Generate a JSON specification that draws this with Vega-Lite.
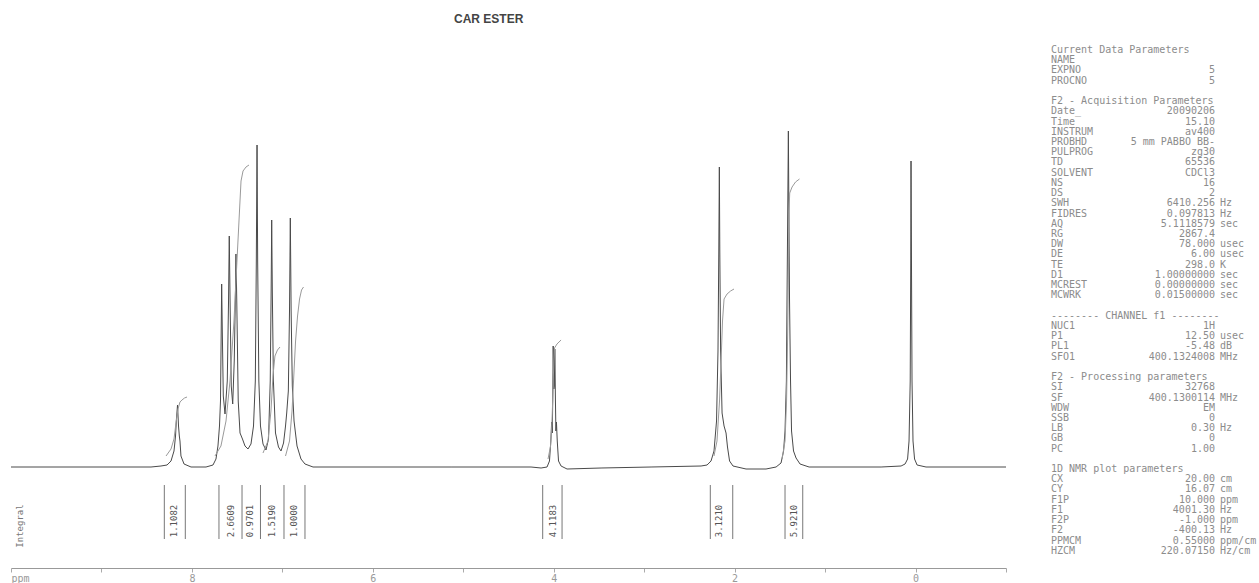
{
  "$schema": "https://vega.github.io/schema/vega-lite/v6.json",
  "background": "white",
  "padding": {"left": 10, "right": 0, "top": 13, "bottom": 0},
  "spacing": 44,
  "title": {"text": "CAR ESTER", "anchor": "start", "frame": "group", "dx": 443, "offset": 19, "font": "Liberation Sans", "fontSize": 12, "fontWeight": "bold", "color": "#444444"},
  "config": {"view": {"stroke": null}},
  "datasets": {
    "spectrum": [
      {"ppm": 10.0, "value": 0}, {"ppm": 8.452, "value": 0}, {"ppm": 8.342, "value": 1}, {"ppm": 8.275, "value": 2},
      {"ppm": 8.231, "value": 6}, {"ppm": 8.198, "value": 16}, {"ppm": 8.181, "value": 31}, {"ppm": 8.171, "value": 48},
      {"ppm": 8.159, "value": 62}, {"ppm": 8.148, "value": 41}, {"ppm": 8.139, "value": 31}, {"ppm": 8.132, "value": 26},
      {"ppm": 8.121, "value": 11}, {"ppm": 8.087, "value": 3}, {"ppm": 8.010, "value": 0}, {"ppm": 7.844, "value": 0},
      {"ppm": 7.767, "value": 2}, {"ppm": 7.734, "value": 8}, {"ppm": 7.712, "value": 21}, {"ppm": 7.695, "value": 41},
      {"ppm": 7.684, "value": 66}, {"ppm": 7.676, "value": 136}, {"ppm": 7.671, "value": 183}, {"ppm": 7.664, "value": 136},
      {"ppm": 7.653, "value": 71}, {"ppm": 7.634, "value": 53}, {"ppm": 7.609, "value": 86}, {"ppm": 7.595, "value": 166},
      {"ppm": 7.587, "value": 231}, {"ppm": 7.578, "value": 166}, {"ppm": 7.565, "value": 81}, {"ppm": 7.549, "value": 63},
      {"ppm": 7.532, "value": 106}, {"ppm": 7.520, "value": 166}, {"ppm": 7.513, "value": 213}, {"ppm": 7.504, "value": 166},
      {"ppm": 7.488, "value": 66}, {"ppm": 7.468, "value": 34}, {"ppm": 7.441, "value": 28}, {"ppm": 7.413, "value": 21},
      {"ppm": 7.380, "value": 18}, {"ppm": 7.347, "value": 23}, {"ppm": 7.319, "value": 41}, {"ppm": 7.299, "value": 86},
      {"ppm": 7.288, "value": 206}, {"ppm": 7.280, "value": 322}, {"ppm": 7.273, "value": 206}, {"ppm": 7.260, "value": 86},
      {"ppm": 7.242, "value": 41}, {"ppm": 7.214, "value": 23}, {"ppm": 7.181, "value": 17}, {"ppm": 7.153, "value": 28},
      {"ppm": 7.134, "value": 86}, {"ppm": 7.124, "value": 176}, {"ppm": 7.118, "value": 247}, {"ppm": 7.111, "value": 176},
      {"ppm": 7.099, "value": 86}, {"ppm": 7.076, "value": 34}, {"ppm": 7.043, "value": 20}, {"ppm": 7.015, "value": 16},
      {"ppm": 6.987, "value": 24}, {"ppm": 6.965, "value": 41}, {"ppm": 6.952, "value": 54}, {"ppm": 6.934, "value": 76},
      {"ppm": 6.921, "value": 156}, {"ppm": 6.912, "value": 249}, {"ppm": 6.903, "value": 156}, {"ppm": 6.890, "value": 81},
      {"ppm": 6.871, "value": 46}, {"ppm": 6.838, "value": 21}, {"ppm": 6.794, "value": 8}, {"ppm": 6.750, "value": 3},
      {"ppm": 6.661, "value": 0}, {"ppm": 5.135, "value": 0}, {"ppm": 4.251, "value": 0}, {"ppm": 4.140, "value": -1},
      {"ppm": 4.074, "value": 0}, {"ppm": 4.047, "value": 6}, {"ppm": 4.032, "value": 26}, {"ppm": 4.023, "value": 45},
      {"ppm": 4.016, "value": 34}, {"ppm": 4.011, "value": 66}, {"ppm": 4.006, "value": 121}, {"ppm": 3.999, "value": 78},
      {"ppm": 3.993, "value": 81}, {"ppm": 3.988, "value": 118}, {"ppm": 3.981, "value": 66}, {"ppm": 3.976, "value": 36},
      {"ppm": 3.970, "value": 45}, {"ppm": 3.961, "value": 26}, {"ppm": 3.947, "value": 6}, {"ppm": 3.919, "value": 1},
      {"ppm": 3.853, "value": -2}, {"ppm": 3.477, "value": -1}, {"ppm": 2.924, "value": 0}, {"ppm": 2.371, "value": 1},
      {"ppm": 2.305, "value": 2}, {"ppm": 2.261, "value": 6}, {"ppm": 2.228, "value": 16}, {"ppm": 2.200, "value": 46},
      {"ppm": 2.184, "value": 116}, {"ppm": 2.175, "value": 216}, {"ppm": 2.169, "value": 300}, {"ppm": 2.164, "value": 216},
      {"ppm": 2.155, "value": 116}, {"ppm": 2.139, "value": 54}, {"ppm": 2.117, "value": 41}, {"ppm": 2.095, "value": 34},
      {"ppm": 2.079, "value": 20}, {"ppm": 2.056, "value": 6}, {"ppm": 2.018, "value": 1}, {"ppm": 1.874, "value": -2},
      {"ppm": 1.653, "value": -2}, {"ppm": 1.542, "value": 0}, {"ppm": 1.487, "value": 4}, {"ppm": 1.459, "value": 16},
      {"ppm": 1.443, "value": 36}, {"ppm": 1.428, "value": 86}, {"ppm": 1.421, "value": 166}, {"ppm": 1.412, "value": 266},
      {"ppm": 1.406, "value": 336}, {"ppm": 1.401, "value": 266}, {"ppm": 1.393, "value": 166}, {"ppm": 1.382, "value": 86},
      {"ppm": 1.371, "value": 36}, {"ppm": 1.349, "value": 16}, {"ppm": 1.321, "value": 9}, {"ppm": 1.277, "value": 3},
      {"ppm": 1.177, "value": 0}, {"ppm": 0.381, "value": 0}, {"ppm": 0.160, "value": 1}, {"ppm": 0.116, "value": 3},
      {"ppm": 0.088, "value": 8}, {"ppm": 0.072, "value": 26}, {"ppm": 0.059, "value": 86}, {"ppm": 0.053, "value": 206},
      {"ppm": 0.050, "value": 306}, {"ppm": 0.045, "value": 206}, {"ppm": 0.039, "value": 86}, {"ppm": 0.028, "value": 26},
      {"ppm": 0.011, "value": 8}, {"ppm": -0.017, "value": 2}, {"ppm": -0.116, "value": 0}, {"ppm": -1.0, "value": 0}
    ],
    "integrals": [
      {"series": "a", "ppm": 8.286, "value": 11}, {"series": "a", "ppm": 8.231, "value": 18}, {"series": "a", "ppm": 8.198, "value": 28},
      {"series": "a", "ppm": 8.176, "value": 44}, {"series": "a", "ppm": 8.154, "value": 58}, {"series": "a", "ppm": 8.132, "value": 65},
      {"series": "a", "ppm": 8.110, "value": 67}, {"series": "a", "ppm": 8.082, "value": 69}, {"series": "a", "ppm": 8.054, "value": 70},
      {"series": "b", "ppm": 7.745, "value": 11}, {"series": "b", "ppm": 7.679, "value": 21}, {"series": "b", "ppm": 7.623, "value": 46},
      {"series": "b", "ppm": 7.579, "value": 86}, {"series": "b", "ppm": 7.535, "value": 146}, {"series": "b", "ppm": 7.502, "value": 206},
      {"series": "b", "ppm": 7.474, "value": 256}, {"series": "b", "ppm": 7.457, "value": 286}, {"series": "b", "ppm": 7.435, "value": 296},
      {"series": "b", "ppm": 7.402, "value": 300}, {"series": "b", "ppm": 7.369, "value": 302},
      {"series": "c", "ppm": 7.214, "value": 14}, {"series": "c", "ppm": 7.159, "value": 26}, {"series": "c", "ppm": 7.126, "value": 56},
      {"series": "c", "ppm": 7.104, "value": 91}, {"series": "c", "ppm": 7.082, "value": 111}, {"series": "c", "ppm": 7.054, "value": 117},
      {"series": "c", "ppm": 7.026, "value": 120},
      {"series": "d", "ppm": 6.965, "value": 11}, {"series": "d", "ppm": 6.921, "value": 26}, {"series": "d", "ppm": 6.893, "value": 56},
      {"series": "d", "ppm": 6.871, "value": 96}, {"series": "d", "ppm": 6.854, "value": 126}, {"series": "d", "ppm": 6.832, "value": 151},
      {"series": "d", "ppm": 6.810, "value": 168}, {"series": "d", "ppm": 6.788, "value": 177}, {"series": "d", "ppm": 6.766, "value": 180},
      {"series": "e", "ppm": 4.063, "value": 8}, {"series": "e", "ppm": 4.035, "value": 21}, {"series": "e", "ppm": 4.019, "value": 46},
      {"series": "e", "ppm": 4.008, "value": 76}, {"series": "e", "ppm": 3.999, "value": 106}, {"series": "e", "ppm": 3.991, "value": 119},
      {"series": "e", "ppm": 3.964, "value": 123}, {"series": "e", "ppm": 3.919, "value": 127},
      {"series": "f", "ppm": 2.228, "value": 11}, {"series": "f", "ppm": 2.195, "value": 26}, {"series": "f", "ppm": 2.167, "value": 66},
      {"series": "f", "ppm": 2.150, "value": 106}, {"series": "f", "ppm": 2.134, "value": 146}, {"series": "f", "ppm": 2.117, "value": 168},
      {"series": "f", "ppm": 2.084, "value": 173}, {"series": "f", "ppm": 2.045, "value": 176}, {"series": "f", "ppm": 2.007, "value": 178},
      {"series": "g", "ppm": 1.476, "value": 8}, {"series": "g", "ppm": 1.443, "value": 26}, {"series": "g", "ppm": 1.426, "value": 66},
      {"series": "g", "ppm": 1.415, "value": 126}, {"series": "g", "ppm": 1.406, "value": 186}, {"series": "g", "ppm": 1.399, "value": 256},
      {"series": "g", "ppm": 1.391, "value": 274}, {"series": "g", "ppm": 1.365, "value": 280}, {"series": "g", "ppm": 1.327, "value": 285},
      {"series": "g", "ppm": 1.283, "value": 288}
    ],
    "brackets": [
      {"ppm": 8.305}, {"ppm": 8.073}, {"ppm": 7.701}, {"ppm": 7.446}, {"ppm": 7.242}, {"ppm": 6.982}, {"ppm": 6.750},
      {"ppm": 4.122}, {"ppm": 3.908}, {"ppm": 2.269}, {"ppm": 2.021}, {"ppm": 1.443}, {"ppm": 1.247}
    ],
    "ilabels": [
      {"ppm": 8.198, "label": "1.1082"}, {"ppm": 7.568, "label": "2.6609"}, {"ppm": 7.359, "label": "0.9701"},
      {"ppm": 7.118, "label": "1.5190"}, {"ppm": 6.868, "label": "1.0000"}, {"ppm": 4.011, "label": "4.1183"},
      {"ppm": 2.169, "label": "3.1210"}, {"ppm": 1.340, "label": "5.9210"}
    ],
    "sidelabel": [
      {"ppm": 9.9, "label": "Integral"}
    ],
    "params": [
      {"line": 0, "label": "Current Data Parameters", "value": "", "unit": ""},
      {"line": 1, "label": "NAME", "value": "", "unit": ""},
      {"line": 2, "label": "EXPNO", "value": "5", "unit": ""},
      {"line": 3, "label": "PROCNO", "value": "5", "unit": ""},
      {"line": 5, "label": "F2 - Acquisition Parameters", "value": "", "unit": ""},
      {"line": 6, "label": "Date_", "value": "20090206", "unit": ""},
      {"line": 7, "label": "Time", "value": "15.10", "unit": ""},
      {"line": 8, "label": "INSTRUM", "value": "av400", "unit": ""},
      {"line": 9, "label": "PROBHD", "value": "5 mm PABBO BB-", "unit": ""},
      {"line": 10, "label": "PULPROG", "value": "zg30", "unit": ""},
      {"line": 11, "label": "TD", "value": "65536", "unit": ""},
      {"line": 12, "label": "SOLVENT", "value": "CDCl3", "unit": ""},
      {"line": 13, "label": "NS", "value": "16", "unit": ""},
      {"line": 14, "label": "DS", "value": "2", "unit": ""},
      {"line": 15, "label": "SWH", "value": "6410.256", "unit": "Hz"},
      {"line": 16, "label": "FIDRES", "value": "0.097813", "unit": "Hz"},
      {"line": 17, "label": "AQ", "value": "5.1118579", "unit": "sec"},
      {"line": 18, "label": "RG", "value": "2867.4", "unit": ""},
      {"line": 19, "label": "DW", "value": "78.000", "unit": "usec"},
      {"line": 20, "label": "DE", "value": "6.00", "unit": "usec"},
      {"line": 21, "label": "TE", "value": "298.0", "unit": "K"},
      {"line": 22, "label": "D1", "value": "1.00000000", "unit": "sec"},
      {"line": 23, "label": "MCREST", "value": "0.00000000", "unit": "sec"},
      {"line": 24, "label": "MCWRK", "value": "0.01500000", "unit": "sec"},
      {"line": 26, "label": "-------- CHANNEL f1 --------", "value": "", "unit": ""},
      {"line": 27, "label": "NUC1", "value": "1H", "unit": ""},
      {"line": 28, "label": "P1", "value": "12.50", "unit": "usec"},
      {"line": 29, "label": "PL1", "value": "-5.48", "unit": "dB"},
      {"line": 30, "label": "SFO1", "value": "400.1324008", "unit": "MHz"},
      {"line": 32, "label": "F2 - Processing parameters", "value": "", "unit": ""},
      {"line": 33, "label": "SI", "value": "32768", "unit": ""},
      {"line": 34, "label": "SF", "value": "400.1300114", "unit": "MHz"},
      {"line": 35, "label": "WDW", "value": "EM", "unit": ""},
      {"line": 36, "label": "SSB", "value": "0", "unit": ""},
      {"line": 37, "label": "LB", "value": "0.30", "unit": "Hz"},
      {"line": 38, "label": "GB", "value": "0", "unit": ""},
      {"line": 39, "label": "PC", "value": "1.00", "unit": ""},
      {"line": 41, "label": "1D NMR plot parameters", "value": "", "unit": ""},
      {"line": 42, "label": "CX", "value": "20.00", "unit": "cm"},
      {"line": 43, "label": "CY", "value": "16.07", "unit": "cm"},
      {"line": 44, "label": "F1P", "value": "10.000", "unit": "ppm"},
      {"line": 45, "label": "F1", "value": "4001.30", "unit": "Hz"},
      {"line": 46, "label": "F2P", "value": "-1.000", "unit": "ppm"},
      {"line": 47, "label": "F2", "value": "-400.13", "unit": "Hz"},
      {"line": 48, "label": "PPMCM", "value": "0.55000", "unit": "ppm/cm"},
      {"line": 49, "label": "HZCM", "value": "220.07150", "unit": "Hz/cm"}
    ]
  },
  "hconcat": [
    {
      "width": 995,
      "height": 519,
      "encoding": {
        "x": {
          "field": "ppm", "type": "quantitative",
          "scale": {"domain": [-1, 10], "reverse": true, "nice": false, "zero": false},
          "axis": {
            "values": [10, 9, 8, 7, 6, 5, 4, 3, 2, 1, 0, -1],
            "labelExpr": "datum.value == 10 ? 'ppm' : (datum.value % 2 == 0 ? datum.label : '')",
            "labelAlign": {"condition": {"test": "datum.value == 10", "value": "left"}, "value": "center"},
            "title": null, "grid": false,
            "tickSize": 4, "tickColor": "#aaaaaa", "tickWidth": 1,
            "domainColor": "#999999", "domainWidth": 1,
            "labelColor": "#999999", "labelFont": "DejaVu Sans Mono", "labelFontSize": 10,
            "labelPadding": 1, "labelOverlap": false, "labelFlush": false
          }
        }
      },
      "layer": [
        {
          "data": {"name": "spectrum"},
          "mark": {"type": "line", "color": "#4a4a4a", "strokeWidth": 1, "clip": true},
          "encoding": {
            "y": {"field": "value", "type": "quantitative", "scale": {"domain": [-101, 418], "nice": false, "zero": false}, "axis": null}
          }
        },
        {
          "data": {"name": "integrals"},
          "mark": {"type": "line", "color": "#9a9a9a", "strokeWidth": 1},
          "encoding": {
            "y": {"field": "value", "type": "quantitative", "axis": null},
            "detail": {"field": "series", "type": "nominal"}
          }
        },
        {
          "data": {"name": "brackets"},
          "mark": {"type": "rule", "color": "#777777", "strokeWidth": 1},
          "encoding": {"y": {"datum": -18, "axis": null}, "y2": {"datum": -72}}
        },
        {
          "data": {"name": "ilabels"},
          "mark": {"type": "text", "angle": 270, "font": "DejaVu Sans Mono", "fontSize": 9, "color": "#555555", "align": "center", "baseline": "middle"},
          "encoding": {"y": {"datum": -54, "axis": null}, "text": {"field": "label", "type": "nominal"}}
        },
        {
          "data": {"name": "sidelabel"},
          "mark": {"type": "text", "angle": 270, "font": "DejaVu Sans Mono", "fontSize": 9, "color": "#777777", "align": "center", "baseline": "middle"},
          "encoding": {"y": {"datum": -59, "axis": null}, "text": {"field": "label", "type": "nominal"}}
        }
      ]
    },
    {
      "width": 210,
      "height": 524,
      "data": {"name": "params"},
      "encoding": {
        "y": {"field": "line", "type": "quantitative", "scale": {"domain": [-0.1, 51.17], "reverse": true, "nice": false, "zero": false}, "axis": null}
      },
      "layer": [
        {
          "mark": {"type": "text", "align": "left", "baseline": "middle", "font": "DejaVu Sans Mono", "fontSize": 10, "color": "#8c8c8c"},
          "encoding": {"x": {"datum": 0, "scale": {"domain": [0, 1], "nice": false, "zero": false}, "axis": null}, "text": {"field": "label", "type": "nominal"}}
        },
        {
          "mark": {"type": "text", "align": "right", "baseline": "middle", "font": "DejaVu Sans Mono", "fontSize": 10, "color": "#8c8c8c"},
          "encoding": {"x": {"datum": 0.781, "axis": null}, "text": {"field": "value", "type": "nominal"}}
        },
        {
          "mark": {"type": "text", "align": "left", "baseline": "middle", "font": "DejaVu Sans Mono", "fontSize": 10, "color": "#8c8c8c"},
          "encoding": {"x": {"datum": 0.805, "axis": null}, "text": {"field": "unit", "type": "nominal"}}
        }
      ]
    }
  ]
}
